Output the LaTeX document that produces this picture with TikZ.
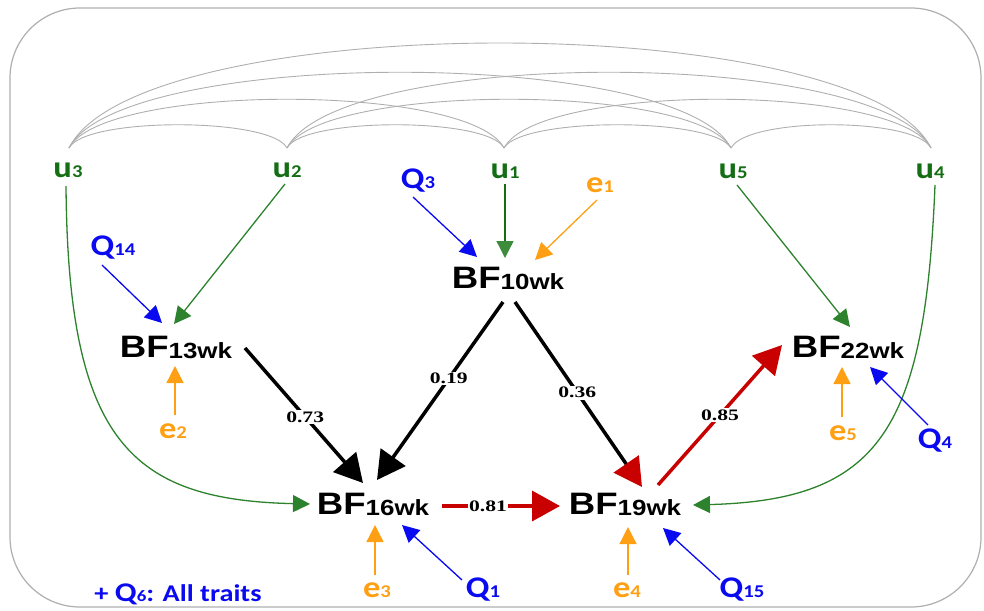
\documentclass[tikz,border=0pt]{standalone}
\usepackage{fontspec}
\setmainfont{Liberation Sans}
\newfontfamily\calfont{Carlito}
\newfontfamily\serfont{Liberation Serif}
\usetikzlibrary{arrows.meta}
\definecolor{ugreen}{RGB}{20,110,20}
\definecolor{lgreen}{RGB}{45,130,45}
\definecolor{hgreen}{RGB}{60,140,60}
\definecolor{qblue}{RGB}{10,10,240}
\definecolor{eorange}{RGB}{255,160,20}
\definecolor{dred}{RGB}{200,0,0}
\definecolor{arcgray}{RGB}{175,175,175}
\newcommand\BFlab[1]{\scalebox{1.18}[1]{\bfseries\fontsize{31}{31}\selectfont BF\raisebox{-1pt}{\fontsize{22}{22}\selectfont #1}}}
\newcommand\smlab[2]{\scalebox{1.15}[1]{\calfont\bfseries\fontsize{30}{30}\selectfont #1\fontsize{18}{18}\selectfont #2}}
\newcommand\numtxt[1]{\scalebox{1.35}[1]{\serfont\bfseries\fontsize{16}{16}\selectfont #1}}
\tikzset{
  bfnode/.style={inner sep=0pt, text=black},
  unode/.style={inner sep=0pt, text=ugreen},
  qnode/.style={inner sep=0pt, text=qblue},
  enode/.style={inner sep=0pt, text=eorange},
  thinarr/.style={line width=1.3pt, -{Triangle[length=17pt,width=17pt]}},
  bigarr/.style={line width=3.5pt, -{Triangle[length=28pt,width=30pt]}},
  numlab/.style={fill=white, inner sep=1.5pt, text=black},
  arcline/.style={draw=arcgray, line width=0.9pt}
}
\begin{document}
\begin{tikzpicture}[x=1pt,y=-1pt]
\useasboundingbox (0,0) rectangle (984,610);
\draw[arcgray, line width=1.2pt, rounded corners=70pt] (10,8) rectangle (981,607);

% nodes
\node[bfnode] (bf10) at (508,278) {\BFlab{10wk}};
\node[bfnode] (bf13) at (176,347) {\BFlab{13wk}};
\node[bfnode] (bf16) at (373,504) {\BFlab{16wk}};
\node[bfnode] (bf19) at (625,504) {\BFlab{19wk}};
\node[bfnode] (bf22) at (848,347) {\BFlab{22wk}};

\node[unode] (u3) at (68,170) {\smlab{u}{3}};
\node[unode] (u2) at (287,170) {\smlab{u}{2}};
\node[unode] (u1) at (505,171) {\smlab{u}{1}};
\node[unode] (u5) at (733,171) {\smlab{u}{5}};
\node[unode] (u4) at (930,171) {\smlab{u}{4}};

\node[qnode] (q14) at (113,248) {\smlab{Q}{14}};
\node[qnode] (q3) at (418,181) {\smlab{Q}{3}};
\node[qnode] (q1) at (483,590) {\smlab{Q}{1}};
\node[qnode] (q15) at (742,590) {\smlab{Q}{15}};
\node[qnode] (q4) at (935,441) {\smlab{Q}{4}};

\node[enode] (e1) at (600,185) {\smlab{e}{1}};
\node[enode] (e2) at (173,431) {\smlab{e}{2}};
\node[enode] (e3) at (377,590) {\smlab{e}{3}};
\node[enode] (e4) at (627,590) {\smlab{e}{4}};
\node[enode] (e5) at (843,433) {\smlab{e}{5}};

\node[qnode] (note) at (178,594) {\scalebox{1.18}[1]{\calfont\bfseries\fontsize{24}{24}\selectfont + \fontsize{27}{27}\selectfont Q\fontsize{16}{16}\selectfont 6\fontsize{24}{24}\selectfont: All traits}};

% arc end points on top of the u labels
\coordinate (a3) at ([shift={(1,-22)}]u3.center);
\coordinate (a2) at ([shift={(0,-22)}]u2.center);
\coordinate (a1) at ([shift={(-1,-23)}]u1.center);
\coordinate (a5) at ([shift={(-2,-23)}]u5.center);
\coordinate (a4) at ([shift={(1,-23)}]u4.center);

% correlation arcs (all pairs)
\draw[arcline] (a3) .. controls +(16,-31) and +(-16,-31) .. (a2);
\draw[arcline] (a2) .. controls +(16,-31) and +(-16,-31) .. (a1);
\draw[arcline] (a1) .. controls +(18,-31) and +(-18,-31) .. (a5);
\draw[arcline] (a5) .. controls +(16,-31) and +(-16,-31) .. (a4);
\draw[arcline] (a3) .. controls +(34,-65) and +(-34,-65) .. (a1);
\draw[arcline] (a2) .. controls +(36,-65) and +(-36,-65) .. (a5);
\draw[arcline] (a1) .. controls +(34,-65) and +(-34,-65) .. (a4);
\draw[arcline] (a3) .. controls +(52,-101) and +(-52,-101) .. (a5);
\draw[arcline] (a2) .. controls +(52,-101) and +(-52,-101) .. (a4);
\draw[arcline] (a3) .. controls +(70,-140) and +(-70,-140) .. (a4);

% BF10 inputs
\draw[thinarr, qblue] ([shift={(-5,16)}]q3.center) -- ([shift={(-31,-21)}]bf10.center);
\draw[line width=1.3pt, ugreen, -{Triangle[length=17pt,width=17pt,color=hgreen]}] ([shift={(0,13)}]u1.center) -- ([shift={(-3,-20)}]bf10.center);
\draw[thinarr, eorange] ([shift={(-3,15)}]e1.center) -- ([shift={(27,-18)}]bf10.center);

% BF13 inputs
\draw[thinarr, qblue] ([shift={(-11,17)}]q14.center) -- ([shift={(-14,-24)}]bf13.center);
\draw[thinarr, lgreen] ([shift={(-2,14)}]u2.center) -- ([shift={(-2,-23)}]bf13.center);
\draw[thinarr, eorange] ([shift={(2,-16)}]e2.center) -- ([shift={(-1,19)}]bf13.center);

% BF16 inputs
\draw[thinarr, lgreen] ([shift={(-2,16)}]u3.center) .. controls (68,440) and (130,500) .. ([shift={(-63,0)}]bf16.center);
\draw[thinarr, eorange] ([shift={(-2,-15)}]e3.center) -- ([shift={(2,21)}]bf16.center);
\draw[thinarr, qblue] ([shift={(-21,-10)}]q1.center) -- ([shift={(29,21)}]bf16.center);

% BF19 inputs
\draw[thinarr, lgreen] ([shift={(5,14)}]u4.center) .. controls (925,430) and (880,500) .. ([shift={(68,1)}]bf19.center);
\draw[thinarr, eorange] ([shift={(1,-15)}]e4.center) -- ([shift={(3,23)}]bf19.center);
\draw[thinarr, qblue] ([shift={(-22,-10)}]q15.center) -- ([shift={(38,24)}]bf19.center);

% BF22 inputs
\draw[thinarr, lgreen] ([shift={(4,14)}]u5.center) -- ([shift={(2,-20)}]bf22.center);
\draw[thinarr, eorange] ([shift={(-1,-16)}]e5.center) -- ([shift={(-6,20)}]bf22.center);
\draw[thinarr, qblue] ([shift={(-7,-16)}]q4.center) -- ([shift={(22,20)}]bf22.center);

% path coefficients
\draw[bigarr, black] ([shift={(69,1)}]bf13.center) -- node[numlab, pos=0.51] {\numtxt{0.73}} ([shift={(-10,-21)}]bf16.center);
\draw[bigarr, black] ([shift={(-5,24)}]bf10.center) -- node[numlab, pos=0.43] {\numtxt{0.19}} ([shift={(4,-24)}]bf16.center);
\draw[line width=3.5pt, black, -{Triangle[length=28pt,width=30pt,color=dred]}] ([shift={(7,24)}]bf10.center) -- node[numlab, pos=0.49] {\numtxt{0.36}} ([shift={(17,-17)}]bf19.center);
\draw[bigarr, dred] ([shift={(69,2)}]bf16.center) -- node[numlab, pos=0.39] {\numtxt{0.81}} ([shift={(-65,2)}]bf19.center);
\draw[bigarr, dred] ([shift={(33,-19)}]bf19.center) -- node[numlab, pos=0.5] {\numtxt{0.85}} ([shift={(-66,-2)}]bf22.center);
\end{tikzpicture}
\end{document}
